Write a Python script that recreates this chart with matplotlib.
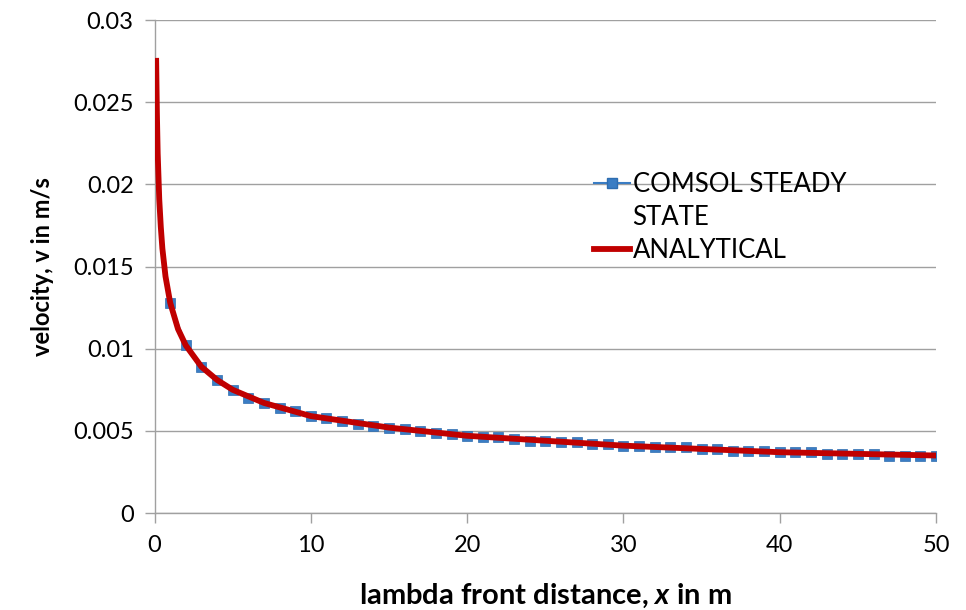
import matplotlib
matplotlib.use("Agg")
import matplotlib.pyplot as plt
from matplotlib.lines import Line2D

plt.rcParams['font.family'] = ['Lato', 'DejaVu Sans']
plt.rcParams['mathtext.fontset'] = 'custom'
plt.rcParams['mathtext.it'] = 'Lato:bold:italic'
plt.rcParams['mathtext.rm'] = 'Lato:bold'

# COMSOL steady state, one point per metre
x_comsol = list(range(1, 51))
v_comsol = [0.0128, 0.0102, 0.0089, 0.0081, 0.0075, 0.0070, 0.0067, 0.0064, 0.0062, 0.0059,
            0.0058, 0.0056, 0.0054, 0.0053, 0.0052, 0.0051, 0.0050, 0.0049, 0.0048, 0.0047,
            0.0046, 0.0046, 0.0045, 0.0044, 0.0044, 0.0043, 0.0043, 0.0042, 0.0042, 0.0041,
            0.0041, 0.0040, 0.0040, 0.0040, 0.0039, 0.0039, 0.0038, 0.0038, 0.0038, 0.0037,
            0.0037, 0.0037, 0.0036, 0.0036, 0.0036, 0.0036, 0.0035, 0.0035, 0.0035, 0.0035]

# analytical curve
x_anal = [0.1, 0.15, 0.2, 0.3, 0.4, 0.5, 0.7, 1, 1.5, 2, 3, 4, 5, 7, 10,
          15, 20, 25, 30, 35, 40, 45, 50]
v_anal = [0.0277, 0.0243, 0.0219, 0.0191, 0.0174, 0.0161, 0.0144, 0.0128, 0.0112, 0.0102,
          0.0089, 0.0081, 0.0075, 0.0067, 0.0059, 0.0052, 0.0047, 0.0044, 0.0041, 0.0039,
          0.0037, 0.0036, 0.0035]

xticks = [0, 10, 20, 30, 40, 50]
yticks = [0, 0.005, 0.01, 0.015, 0.02, 0.025, 0.03]
yticklabels = ['0', '0.005', '0.01', '0.015', '0.02', '0.025', '0.03']

blue = '#3a7dc4'
red = '#c00000'
gray = '#a0a0a0'

fig = plt.figure(figsize=(9.66, 6.1), dpi=100)
ax = fig.add_axes([0.160, 0.159, 0.809, 0.808])

ax.plot(x_comsol, v_comsol, color=blue, lw=1.5, marker='s', ms=6.5,
        mfc=blue, mec='#2e6db0', mew=0.5, zorder=3)
ax.plot(x_anal, v_anal, color=red, lw=4.2, solid_capstyle='butt', zorder=4)

ax.set_xlim(0, 50)
ax.set_ylim(0, 0.03)
ax.set_xticks(xticks)
ax.set_yticks(yticks)
ax.set_yticklabels(yticklabels)
ax.grid(axis='y', color=gray, lw=1)
ax.set_axisbelow(True)

for s in ['top', 'right']:
    ax.spines[s].set_visible(False)
for s in ['left', 'bottom']:
    ax.spines[s].set_color(gray)
    ax.spines[s].set_linewidth(1)
ax.tick_params(axis='both', colors=gray, length=7, width=1, labelsize=17,
               labelcolor='black')
ax.tick_params(axis='x', pad=9)
ax.tick_params(axis='y', pad=8)

ax.set_xlabel(r'lambda front distance, $x$ in m', fontsize=21, fontweight='bold', labelpad=18)
ax.set_ylabel('velocity, v in m/s', fontsize=17, fontweight='bold', labelpad=14)

handles = [Line2D([], [], color=blue, lw=1.5, marker='s', ms=6.5, mfc=blue, mec='#2e6db0'),
           Line2D([], [], color='none'),
           Line2D([], [], color=red, lw=4.2)]
labels = ['COMSOL STEADY', 'STATE', 'ANALYTICAL']
ax.legend(handles, labels, loc='upper left', bbox_to_anchor=(0.546, 0.718),
          frameon=False, fontsize=18.5, handlelength=1.4, handletextpad=0.1,
          labelspacing=0.32, borderpad=0)

fig.savefig('out.png', dpi=100)
